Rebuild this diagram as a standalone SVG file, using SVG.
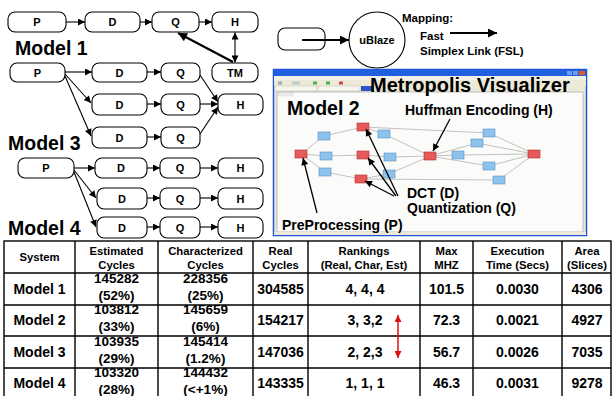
<svg xmlns="http://www.w3.org/2000/svg" width="612" height="396" viewBox="0 0 612 396">
<defs>
<style>
.box{fill:#fff;stroke:#000;stroke-width:1.1}
.bt{font-family:"Liberation Sans",Arial,sans-serif;font-weight:bold;font-size:11px;text-anchor:middle;fill:#000}
.ml{font-family:"Liberation Sans",Arial,sans-serif;font-weight:bold;font-size:19.5px;fill:#000}
.lab{font-family:"Liberation Sans",Arial,sans-serif;font-weight:bold;font-size:14px;fill:#000}
.leg{font-family:"Liberation Sans",Arial,sans-serif;font-weight:bold;font-size:11.5px;fill:#000}
.th{font-family:"Liberation Sans",Arial,sans-serif;font-weight:bold;font-size:11.3px;text-anchor:middle;fill:#000}
.td{font-family:"Liberation Sans",Arial,sans-serif;font-weight:bold;font-size:14px;text-anchor:middle;fill:#000}
.t2{font-family:"Liberation Sans",Arial,sans-serif;font-weight:bold;font-size:13.5px;text-anchor:middle;fill:#000}
.c{stroke:#000;stroke-width:1.1;fill:none;marker-end:url(#ah)}
.cb{stroke:#000;stroke-width:2.2;fill:none;marker-end:url(#ahb)}
.ca{stroke:#000;stroke-width:1.3;fill:none;marker-end:url(#ah)}
.g{stroke:#a8a8a8;stroke-width:0.7}
.rn{fill:#e85a5a;stroke:#b03030;stroke-width:0.6}
.bn{fill:#8cc3ee;stroke:#5a8fc0;stroke-width:0.6}
.tl{stroke:#000;stroke-width:1.4}
</style>
<marker id="ah" viewBox="0 0 10 10" refX="10" refY="5" markerWidth="9" markerHeight="7" markerUnits="userSpaceOnUse" orient="auto-start-reverse"><path d="M0,0 L10,5 L0,10 z" fill="#000"/></marker>
<marker id="ahb" viewBox="0 0 10 10" refX="10" refY="5" markerWidth="14" markerHeight="9" markerUnits="userSpaceOnUse" orient="auto-start-reverse"><path d="M0,0 L10,5 L0,10 z" fill="#000"/></marker>
<marker id="ahr" viewBox="0 0 10 10" refX="10" refY="5" markerWidth="9" markerHeight="7" markerUnits="userSpaceOnUse" orient="auto-start-reverse"><path d="M0,0 L10,5 L0,10 z" fill="#e01010"/></marker>
</defs>
<rect width="612" height="396" fill="#fff"/>

<!-- Model labels -->
<text class="ml" x="15" y="55">Model 1</text>
<text class="ml" x="8" y="150">Model 3</text>
<text class="ml" x="8" y="235">Model 4</text>

<!-- Row 1 -->
<g id="P1"><rect class="box" x="8" y="12" width="58" height="20" rx="7"/><text class="bt" x="37" y="26">P</text></g>
<g id="D1"><rect class="box" x="85" y="12" width="55" height="20" rx="7"/><text class="bt" x="112.5" y="26">D</text></g>
<g id="Q1"><rect class="box" x="152" y="12" width="47" height="20" rx="7"/><text class="bt" x="175.5" y="26">Q</text></g>
<g id="H1"><rect class="box" x="212" y="12" width="46" height="20" rx="7"/><text class="bt" x="235" y="26">H</text></g>
<g id="TM"><rect class="box" x="212" y="63" width="46" height="19" rx="7"/><text class="bt" x="235" y="76.5">TM</text></g>

<!-- Row 2-4 -->
<g id="P2"><rect class="box" x="10" y="63" width="55" height="19" rx="7"/><text class="bt" x="37.5" y="76.5">P</text></g>
<g id="D2a"><rect class="box" x="92" y="63" width="55" height="19" rx="7"/><text class="bt" x="119.5" y="76.5">D</text></g>
<g id="Q2a"><rect class="box" x="161" y="63" width="39" height="19" rx="7"/><text class="bt" x="180.5" y="76.5">Q</text></g>
<g id="D2b"><rect class="box" x="92" y="94" width="55" height="21" rx="7"/><text class="bt" x="119.5" y="108.5">D</text></g>
<g id="Q2b"><rect class="box" x="161" y="94" width="39" height="21" rx="7"/><text class="bt" x="180.5" y="108.5">Q</text></g>
<g id="H2"><rect class="box" x="218" y="94" width="45" height="21" rx="7"/><text class="bt" x="240.5" y="108.5">H</text></g>
<g id="D2c"><rect class="box" x="92" y="127" width="55" height="21" rx="7"/><text class="bt" x="119.5" y="141.5">D</text></g>
<g id="Q2c"><rect class="box" x="161" y="127" width="39" height="21" rx="7"/><text class="bt" x="180.5" y="141.5">Q</text></g>

<!-- Row 5-7 -->
<g id="P3"><rect class="box" x="18" y="158" width="56" height="20" rx="7"/><text class="bt" x="46" y="172">P</text></g>
<g id="D3a"><rect class="box" x="95" y="158" width="52" height="20" rx="7"/><text class="bt" x="121" y="172">D</text></g>
<g id="Q3a"><rect class="box" x="160" y="158" width="40" height="20" rx="7"/><text class="bt" x="180" y="172">Q</text></g>
<g id="H3a"><rect class="box" x="218" y="158" width="45" height="20" rx="7"/><text class="bt" x="240.5" y="172">H</text></g>
<g id="D3b"><rect class="box" x="97" y="188" width="50" height="21" rx="7"/><text class="bt" x="122" y="202.5">D</text></g>
<g id="Q3b"><rect class="box" x="160" y="188" width="40" height="21" rx="7"/><text class="bt" x="180" y="202.5">Q</text></g>
<g id="H3b"><rect class="box" x="218" y="188" width="45" height="21" rx="7"/><text class="bt" x="240.5" y="202.5">H</text></g>
<g id="D3c"><rect class="box" x="97" y="217" width="50" height="21" rx="7"/><text class="bt" x="122" y="231.5">D</text></g>
<g id="Q3c"><rect class="box" x="160" y="217" width="40" height="21" rx="7"/><text class="bt" x="180" y="231.5">Q</text></g>
<g id="H3c"><rect class="box" x="218" y="217" width="45" height="21" rx="7"/><text class="bt" x="240.5" y="231.5">H</text></g>

<!-- Legend -->
<g id="legendBox"><rect class="box" x="278" y="28" width="47" height="22" rx="7"/></g>
<g id="uBlaze"><circle cx="377" cy="40" r="28" fill="#fff" stroke="#000" stroke-width="1.1"/><text class="bt" x="377" y="44" font-size="10.5">uBlaze</text></g>
<g id="mapping">
<text class="leg" x="402" y="22" font-size="14">Mapping:</text>
<text class="leg" x="420" y="40">Fast</text>
<text class="leg" x="420" y="55">Simplex Link (FSL)</text>
</g>

<!-- Connectors -->
<g id="connectors">
<line class="c" x1="66" y1="22" x2="85" y2="22"/>
<line class="c" x1="140" y1="22" x2="152" y2="22"/>
<line class="c" x1="199" y1="22" x2="212" y2="22"/>
<line class="c" x1="235" y1="32.5" x2="235" y2="62.5" marker-start="url(#ah)"/>
<line class="cb" x1="233" y1="62" x2="178" y2="33"/>
<line class="c" x1="65" y1="72" x2="92" y2="72"/>
<line class="c" x1="147" y1="72" x2="161" y2="72"/>
<line class="c" x1="65" y1="74" x2="91" y2="103"/>
<line class="c" x1="65" y1="76" x2="91" y2="136"/>
<line class="c" x1="147" y1="104" x2="161" y2="104"/>
<line class="c" x1="147" y1="137" x2="161" y2="137"/>
<line class="c" x1="200" y1="75" x2="218" y2="102"/>
<line class="c" x1="200" y1="104" x2="218" y2="104"/>
<line class="c" x1="200" y1="134" x2="218" y2="107"/>
<line class="c" x1="74" y1="168" x2="95" y2="168"/>
<line class="c" x1="147" y1="168" x2="160" y2="168"/>
<line class="c" x1="200" y1="168" x2="218" y2="168"/>
<line class="c" x1="74" y1="170" x2="96" y2="198"/>
<line class="c" x1="74" y1="172" x2="96" y2="227"/>
<line class="c" x1="147" y1="198" x2="160" y2="198"/>
<line class="c" x1="200" y1="198" x2="218" y2="198"/>
<line class="c" x1="147" y1="227" x2="160" y2="227"/>
<line class="c" x1="200" y1="227" x2="218" y2="227"/>
<line class="cb" x1="302" y1="40" x2="349" y2="40"/>
<line class="cb" x1="450" y1="33" x2="497" y2="33"/>
</g>

<!-- Screenshot -->
<g id="screenshot">
<rect x="273.5" y="69.5" width="313" height="166" fill="#ece9d8" stroke="#1f55d6" stroke-width="1.5"/>
<rect x="274" y="70" width="312" height="6" fill="#1f5fe0"/>
<rect x="567" y="71" width="5" height="4" fill="#6a9cf0"/>
<rect x="573" y="71" width="5" height="4" fill="#6a9cf0"/>
<rect x="579" y="71" width="6" height="4" fill="#e05a2a"/>
<rect x="274" y="76" width="312" height="4" fill="#f2f0e6"/>
<rect x="274" y="80" width="312" height="6" fill="#ece9d8"/>
<rect x="278" y="81.5" width="4" height="3" fill="#9ab"/>
<rect x="292" y="81.5" width="8" height="3" fill="#bcc"/>
<rect x="313" y="81.5" width="4" height="3" fill="#5a5"/>
<rect x="326" y="81.5" width="4" height="3" fill="#5a5"/>
<rect x="339" y="81.5" width="4" height="3" fill="#c44"/>
<rect x="275" y="86" width="42" height="5" fill="#f6f5ee" stroke="#b8b4a0" stroke-width="0.4"/>
<rect x="318" y="86" width="42" height="5" fill="#f6f5ee" stroke="#b8b4a0" stroke-width="0.4"/>
<rect x="361" y="86" width="12" height="5" fill="#2b55c8"/>
<rect x="277" y="92" width="306" height="140" fill="#fbfbf9" stroke="#9a9a9a" stroke-width="0.6"/>
<rect x="278" y="93" width="15" height="3" fill="#eee" stroke="#bbb" stroke-width="0.3"/>
<rect x="274" y="232" width="312" height="3" fill="#ece9d8"/>

<!-- graph edges -->
<g id="graphEdges">
<line class="g" x1="301" y1="154" x2="324" y2="136"/>
<line class="g" x1="301" y1="154" x2="326" y2="156"/>
<line class="g" x1="301" y1="154" x2="325" y2="172"/>
<line class="g" x1="324" y1="136" x2="363" y2="127"/>
<line class="g" x1="326" y1="156" x2="363" y2="155"/>
<line class="g" x1="325" y1="172" x2="361" y2="179"/>
<line class="g" x1="363" y1="127" x2="384" y2="134"/>
<line class="g" x1="384" y1="134" x2="430" y2="156"/>
<line class="g" x1="363" y1="127" x2="489" y2="133"/>
<line class="g" x1="489" y1="133" x2="534" y2="154"/>
<line class="g" x1="363" y1="155" x2="390" y2="157"/>
<line class="g" x1="390" y1="157" x2="430" y2="156"/>
<line class="g" x1="361" y1="179" x2="389" y2="174"/>
<line class="g" x1="389" y1="174" x2="430" y2="156"/>
<line class="g" x1="361" y1="179" x2="499" y2="180"/>
<line class="g" x1="499" y1="180" x2="534" y2="154"/>
<line class="g" x1="430" y1="156" x2="458" y2="155"/>
<line class="g" x1="458" y1="155" x2="534" y2="154"/>
<line class="g" x1="430" y1="156" x2="477" y2="143"/>
<line class="g" x1="477" y1="143" x2="534" y2="154"/>
<line class="g" x1="430" y1="156" x2="489" y2="166"/>
<line class="g" x1="489" y1="166" x2="534" y2="154"/>
</g>
<g id="graphNodes">
<rect class="rn" x="295" y="150" width="12" height="8"/>
<rect class="rn" x="357" y="123" width="12" height="8"/>
<rect class="rn" x="357" y="151" width="12" height="8"/>
<rect class="rn" x="355" y="175" width="12" height="8"/>
<rect class="rn" x="424" y="152" width="12" height="8"/>
<rect class="rn" x="528" y="150" width="12" height="8"/>
<rect class="bn" x="318" y="132" width="12" height="8"/>
<rect class="bn" x="320" y="152" width="12" height="8"/>
<rect class="bn" x="319" y="168" width="12" height="8"/>
<rect class="bn" x="378" y="130" width="12" height="8"/>
<rect class="bn" x="384" y="153" width="12" height="8"/>
<rect class="bn" x="383" y="170" width="12" height="8"/>
<rect class="bn" x="452" y="151" width="12" height="8"/>
<rect class="bn" x="471" y="139" width="12" height="8"/>
<rect class="bn" x="483" y="129" width="12" height="8"/>
<rect class="bn" x="483" y="162" width="12" height="8"/>
<rect class="bn" x="493" y="176" width="12" height="8"/>
</g>
<text x="370" y="92" font-family="'Liberation Sans',Arial,sans-serif" font-weight="bold" font-size="20" fill="#000">Metropolis Visualizer</text>
<text class="ml" x="287" y="115">Model 2</text>
<text class="lab" x="405" y="115">Huffman Encoding (H)</text>
<text class="lab" x="407" y="198" font-size="13.5">DCT (D)</text>
<text class="lab" x="407" y="213" font-size="13.5">Quantization (Q)</text>
<text class="lab" x="282" y="230">PreProcessing (P)</text>
<g id="callouts">
<line class="ca" x1="450" y1="119" x2="433" y2="151"/>
<line class="ca" x1="398" y1="196" x2="366" y2="129"/>
<line class="ca" x1="396" y1="196" x2="368" y2="158"/>
<line class="ca" x1="394" y1="196" x2="365" y2="181"/>
<line class="ca" x1="317" y1="213" x2="303" y2="158"/>
</g>
</g>

<!-- Table -->
<g id="table">
<rect x="4" y="241" width="607" height="160" fill="none" stroke="#000" stroke-width="1.4"/>
<line class="tl" x1="4" y1="273" x2="611" y2="273"/>
<line class="tl" x1="4" y1="305" x2="611" y2="305"/>
<line class="tl" x1="4" y1="336" x2="611" y2="336"/>
<line class="tl" x1="4" y1="368" x2="611" y2="368"/>
<line class="tl" x1="75" y1="241" x2="75" y2="396"/>
<line class="tl" x1="158" y1="241" x2="158" y2="396"/>
<line class="tl" x1="253" y1="241" x2="253" y2="396"/>
<line class="tl" x1="308" y1="241" x2="308" y2="396"/>
<line class="tl" x1="420" y1="241" x2="420" y2="396"/>
<line class="tl" x1="473" y1="241" x2="473" y2="396"/>
<line class="tl" x1="562" y1="241" x2="562" y2="396"/>

<text class="th" x="39.5" y="261">System</text>
<text class="th" x="116.5" y="255">Estimated</text><text class="th" x="116.5" y="269">Cycles</text>
<text class="th" x="205.5" y="255">Characterized</text><text class="th" x="205.5" y="269">Cycles</text>
<text class="th" x="280.5" y="255">Real</text><text class="th" x="280.5" y="269">Cycles</text>
<text class="th" x="364" y="255">Rankings</text><text class="th" x="364" y="269">(Real, Char, Est)</text>
<text class="th" x="446.5" y="255">Max</text><text class="th" x="446.5" y="269">MHZ</text>
<text class="th" x="517.5" y="255">Execution</text><text class="th" x="517.5" y="269">Time (Secs)</text>
<text class="th" x="587" y="255">Area</text><text class="th" x="587" y="269">(Slices)</text>

<text class="td" x="39.5" y="294">Model 1</text>
<text class="t2" x="116.5" y="283">145282</text><text class="t2" x="116.5" y="300">(52%)</text>
<text class="t2" x="205.5" y="283">228356</text><text class="t2" x="205.5" y="300">(25%)</text>
<text class="td" x="280.5" y="294">304585</text>
<text class="td" x="365" y="294">4, 4, 4</text>
<text class="td" x="446.5" y="294">101.5</text>
<text class="td" x="517.5" y="294">0.0030</text>
<text class="td" x="587" y="294">4306</text>

<text class="td" x="39.5" y="325">Model 2</text>
<text class="t2" x="116.5" y="314">103812</text><text class="t2" x="116.5" y="331">(33%)</text>
<text class="t2" x="205.5" y="314">145659</text><text class="t2" x="205.5" y="331">(6%)</text>
<text class="td" x="280.5" y="325">154217</text>
<text class="td" x="365" y="325">3, 3,2</text>
<text class="td" x="446.5" y="325">72.3</text>
<text class="td" x="517.5" y="325">0.0021</text>
<text class="td" x="587" y="325">4927</text>

<text class="td" x="39.5" y="357">Model 3</text>
<text class="t2" x="116.5" y="346">103935</text><text class="t2" x="116.5" y="363">(29%)</text>
<text class="t2" x="205.5" y="346">145414</text><text class="t2" x="205.5" y="363">(1.2%)</text>
<text class="td" x="280.5" y="357">147036</text>
<text class="td" x="365" y="357">2, 2,3</text>
<text class="td" x="446.5" y="357">56.7</text>
<text class="td" x="517.5" y="357">0.0026</text>
<text class="td" x="587" y="357">7035</text>

<text class="td" x="39.5" y="388">Model 4</text>
<text class="t2" x="116.5" y="377">103320</text><text class="t2" x="116.5" y="394">(28%)</text>
<text class="t2" x="205.5" y="377">144432</text><text class="t2" x="205.5" y="394">(&lt;+1%)</text>
<text class="td" x="280.5" y="388">143335</text>
<text class="td" x="365" y="388">1, 1, 1</text>
<text class="td" x="446.5" y="388">46.3</text>
<text class="td" x="517.5" y="388">0.0031</text>
<text class="td" x="587" y="388">9278</text>

<line x1="398" y1="315" x2="398" y2="358" stroke="#e01010" stroke-width="1.5" marker-start="url(#ahr)" marker-end="url(#ahr)"/>
</g>
</svg>
